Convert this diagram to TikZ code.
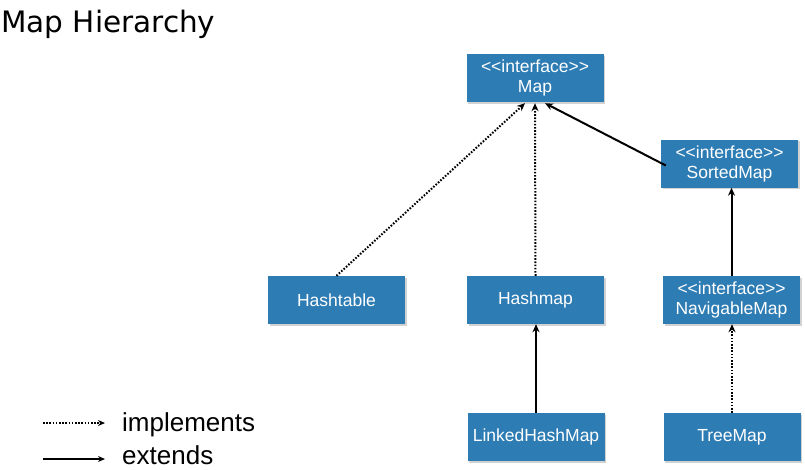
\documentclass[tikz,border=0pt]{standalone}
\usepackage{fontspec}
\setmainfont{Liberation Sans}
\newfontfamily\titlefont{DejaVu Sans}
\usetikzlibrary{arrows.meta,shadows}
\definecolor{boxblue}{RGB}{46,124,180}
\newcommand{\intf}{<\kern0pt<interface>\kern0pt>}
\tikzset{
  cls/.style={fill=boxblue, draw=none, minimum width=137pt, minimum height=48pt,
    inner sep=0pt, text=white, font=\fontsize{17.5}{20}\selectfont, align=center,
    drop shadow={shadow xshift=1.5pt, shadow yshift=-1.5pt, opacity=0.35, fill=gray}},
  tip/.style={-{Stealth[length=8pt,width=7pt]}},
  ext/.style={tip, line width=2pt, black},
  impl/.style={tip, line width=2pt, black, dash pattern=on 1.6pt off 1.6pt},
  lbl/.style={font=\fontsize{26}{30}\selectfont, anchor=base west, inner sep=0pt}
}
\begin{document}
\begin{tikzpicture}[x=1pt,y=-1pt]
\useasboundingbox[fill=white] (0,0) rectangle (805,469);
\node[anchor=base west, inner sep=0pt, font=\titlefont\fontsize{29.5}{33}\selectfont] (title) at (1,32) {Map Hierarchy};

\node[cls] (map) at (535,78) {\intf\\Map};
\node[cls] (sm) at (729.5,163.5) {\intf\\SortedMap};
\node[cls] (ht) at (336.5,300) {Hashtable};
\node[cls] (hm) at (535.5,300) {Hashmap};
\node[cls] (nav) at (731.5,300) {\intf\\NavigableMap};
\node[cls] (lhm) at (536,437) {LinkedHashMap};
\node[cls] (tm) at (732,437) {TreeMap};

\draw[impl] (ht.north) -- ([xshift=-10pt,yshift=-1pt]map.south);
\draw[impl] (hm.north) -- ([yshift=-1pt]map.south);
\draw[ext] ([xshift=5pt,yshift=-2pt]sm.west) -- ([xshift=10pt,yshift=-1pt]map.south);
\draw[ext] (nav.north) -- (nav.north |- sm.south);
\draw[ext] (lhm.north) -- (lhm.north |- hm.south);
\draw[impl] (tm.north) -- (tm.north |- nav.south);

\coordinate (l1a) at (43,423);
\coordinate (l1b) at (105,423);
\coordinate (l2a) at (43,459);
\coordinate (l2b) at (105,459);
\draw[impl, line width=1.6pt, -{Stealth[length=7pt,width=6pt]}] (l1a) -- (l1b);
\draw[ext, line width=1.6pt, -{Stealth[length=7pt,width=6pt]}] (l2a) -- (l2b);
\node[lbl] (limpl) at (122,431) {implements};
\node[lbl] (lext) at (122,464) {extends};
\end{tikzpicture}
\end{document}
